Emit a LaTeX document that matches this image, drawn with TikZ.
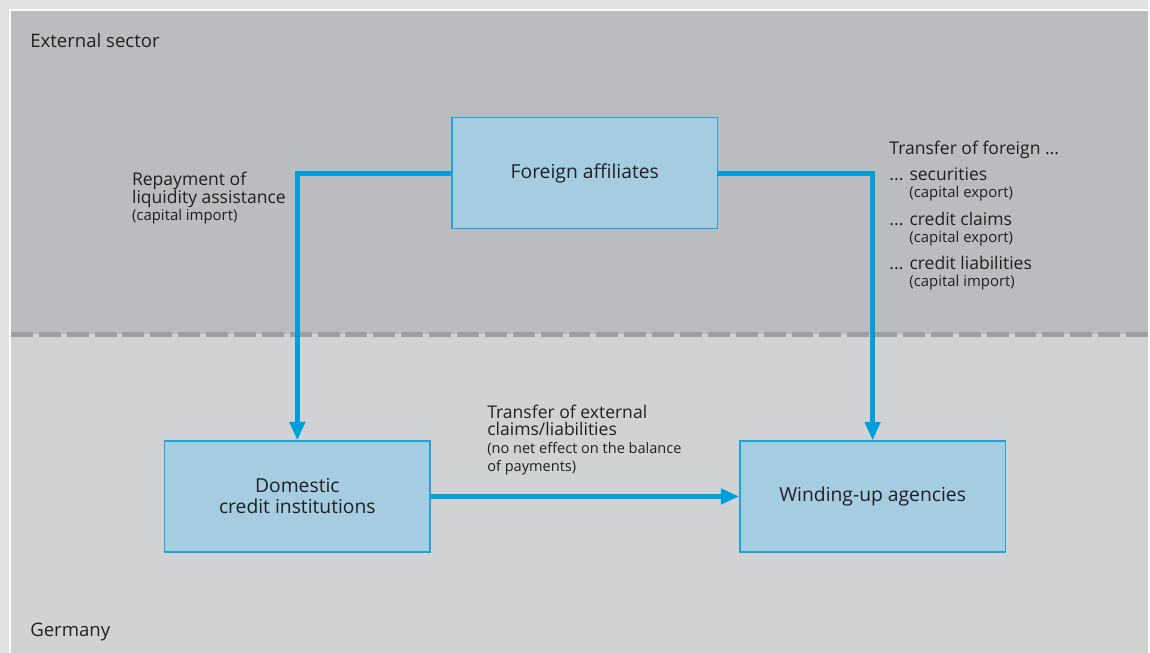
\documentclass[tikz,border=0pt]{standalone}
\usepackage{fontspec}
\setmainfont{Open Sans}
\usetikzlibrary{arrows.meta,positioning}
\definecolor{framegray}{HTML}{E1E2E4}
\definecolor{extgray}{HTML}{BBBCC0}
\definecolor{domgray}{HTML}{D1D2D4}
\definecolor{dashgray}{HTML}{9D9EA1}
\definecolor{boxfill}{HTML}{A5CDE1}
\definecolor{boxline}{HTML}{1FA3DA}
\definecolor{flowblue}{HTML}{009FDA}
\definecolor{textdark}{HTML}{231F20}

\begin{document}
\begin{tikzpicture}[x=0.02cm,y=-0.02cm,
	box/.style={rectangle, draw=boxline, fill=boxfill, line width=0.8pt, minimum width=5.32cm, minimum height=2.22cm, align=center, text=textdark, font=\fontsize{11}{12}\selectfont},
	flow/.style={draw=flowblue, line width=3pt, -{Triangle[length=10.5pt,width=8.5pt]}},
	note/.style={anchor=base west, inner sep=0pt, align=left, text=textdark, font=\fontsize{10}{10}\selectfont},
	small/.style={anchor=base west, inner sep=0pt, text=textdark, font=\fontsize{8.5}{10}\selectfont},
	sector/.style={anchor=base west, inner sep=0pt, text=textdark, font=\fontsize{10.6}{12}\selectfont}]
		% background
		\fill[framegray] (0,0) rectangle (1150,654);
		\fill[white] (9,9) rectangle (1150,654);
		\fill[extgray] (11,11) rectangle (1150,335);
		\fill[domgray] (11,335) rectangle (1150,654);
		\draw[dashgray, line width=2.8pt, dash pattern=on 12.5pt off 3.4pt] (11,335) -- (1150,335);
		\useasboundingbox (0,0) rectangle (1150,654);
		
		\node[sector] (ext) at (30,48) {External sector};
		\node[sector] (ger) at (30,638) {Germany};
		
		\node[box] (foreign) at (586,173.5) {Foreign affiliates};
		\node[box] (domestic) at (298,497.5) {Domestic\\credit institutions};
		\node[box] (winding) at (874.5,497.5) {Winding-up agencies};
		
		\draw[flow] (foreign.west) -| (domestic.north);
		\draw[flow] (foreign.east) -| (winding.north);
		\draw[flow] (domestic.east) -- (winding.west);
		
		% multi-line notes sit on the baseline of their last line
		\node[note] (repay) at (132,221) {Repayment of\\liquidity assistance\\{\fontsize{8.5}{10}\selectfont(capital import)}};
		\node[note] (transext) at (488,472) {Transfer of external\\claims/liabilities\\{\fontsize{8.3}{10}\selectfont(no net effect on the balance}\\{\fontsize{8.3}{10}\selectfont of payments)}};
		
		\node[note] (transfor) at (891,155) {Transfer of foreign ...};
		\node[note] (sec) at (891,181) {... securities};
		\node[small] (secx) at (911,198) {(capital export)};
		\node[note] (claims) at (891,226) {... credit claims};
		\node[small] (claimsx) at (911,243) {(capital export)};
		\node[note] (liab) at (891,270) {... credit liabilities};
		\node[small] (liabx) at (911,287) {(capital import)};
	\end{tikzpicture}
\end{document}
